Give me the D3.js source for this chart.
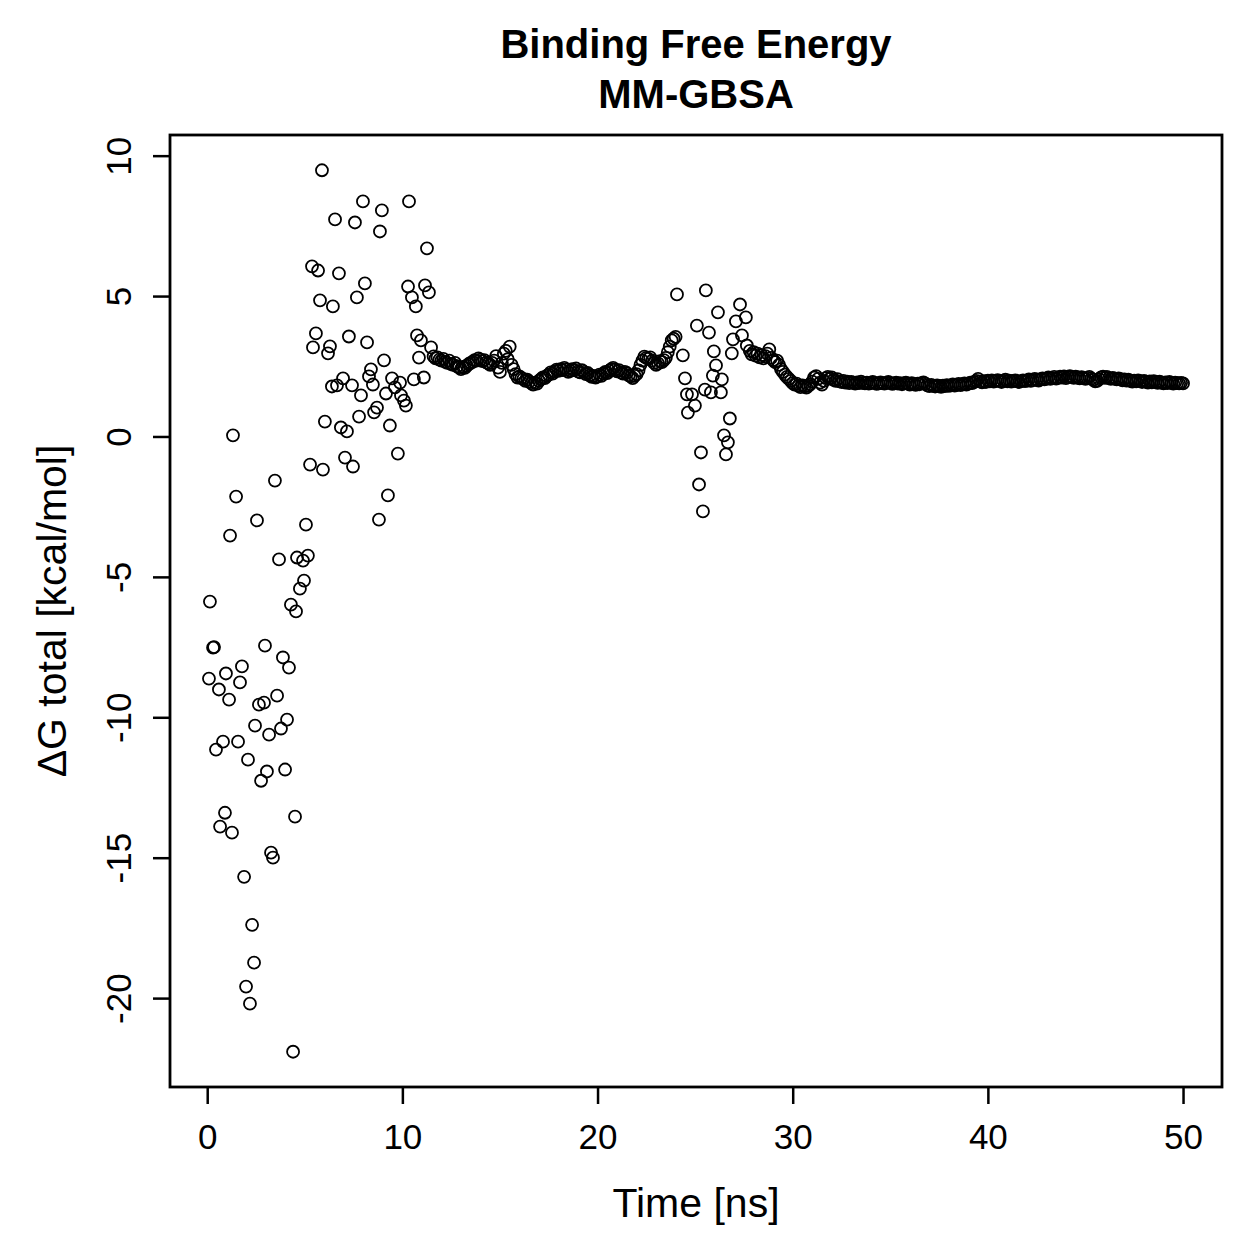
<!DOCTYPE html>
<html>
<head>
<meta charset="utf-8">
<script src="https://cdn.jsdelivr.net/npm/d3@7"></script>
<style>
  body { margin: 0; background: #fff; }
  svg { display: block; font-family: "Liberation Sans", Arial, Helvetica, sans-serif; }
</style>
</head>
<body>
<div id="chart"></div>
<script>
// early trajectory (0 - 11.5 ns), read point by point
var earlyTime = [0.14,0.09,0.30,0.35,0.45,0.60,0.66,0.91,0.96,1.12,1.17,1.27,1.32,1.48,1.58,0.81,1.68,1.78,1.89,1.99,
  2.09,2.19,2.30,2.40,2.45,2.55,2.65,2.76,2.91,2.96,3.06,3.17,3.27,3.37,3.47,3.58,3.68,3.78,3.88,3.99,
  4.09,4.19,4.29,4.40,4.50,4.55,4.60,4.75,4.91,4.96,5.06,5.16,5.27,5.42,5.37,5.57,5.68,5.78,5.88,5.93,
  6.03,6.19,6.29,6.39,6.44,6.55,6.65,6.75,6.85,6.96,7.06,7.16,7.26,7.42,7.47,7.57,7.67,7.78,7.88,7.98,
  8.08,8.19,8.29,8.39,8.49,8.55,8.70,8.80,8.85,8.95,9.06,9.16,9.26,9.36,9.47,9.62,9.77,9.88,9.93,10.08,
  10.18,10.29,10.34,10.49,10.59,10.69,10.75,10.85,10.95,11.10,11.16,11.26,11.36,11.47];
var earlyDG = [-5.88,-8.62,-7.52,-7.50,-11.15,-9.01,-13.89,-13.40,-8.44,-9.37,-3.53,-14.11,0.04,-2.14,-10.87,-10.87,-8.76,-8.19,-15.68,-19.59,
  -11.51,-20.20,-17.39,-18.74,-10.30,-2.99,-9.55,-12.26,-9.48,-7.45,-11.93,-10.62,-14.82,-15.00,-1.57,-9.23,-4.38,-10.40,-7.87,-11.86,
  -10.08,-8.23,-5.99,-21.91,-13.54,-6.23,-4.31,-5.42,-4.42,-5.13,-3.14,-4.24,-1.00,3.17,6.06,3.67,5.91,4.85,9.48,-1.18,
  0.53,2.96,3.21,1.78,4.63,7.73,1.82,5.81,0.32,2.07,-0.75,0.18,3.56,1.82,-1.07,7.62,4.95,0.71,1.46,8.37,
  5.45,3.35,2.14,2.39,1.85,0.86,1.03,-2.96,7.30,8.05,2.71,1.53,-2.10,0.39,2.07,1.75,-0.61,1.92,1.46,1.28,
  1.10,5.34,8.37,4.95,2.03,4.63,3.60,2.81,3.42,2.10,5.38,6.70,5.13,3.17];

// second excursion (24 - 27.7 ns)
var spikeTime = [24.07,24.37,24.48,24.58,24.63,24.84,24.99,25.09,25.20,25.30,25.40,25.50,25.55,25.71,25.81,25.91,
  25.96,26.07,26.17,26.32,26.37,26.48,26.58,26.68,26.78,26.88,26.94,27.09,27.30,27.40,27.60,27.65];
var spikeDG = [5.06,2.89,2.07,1.50,0.85,1.50,1.10,3.95,-1.71,-0.57,-2.67,1.67,5.20,3.70,1.57,2.17,
  3.03,2.53,4.42,1.57,2.03,0.04,-0.64,-0.21,0.64,2.96,3.46,4.10,4.70,3.60,4.24,3.24];

// settled frames, sampled every 0.1 ns
var timeStep = 0.1;
var plateauAStart = 11.6;
var plateauA = [
  2.85,2.78,2.82,2.74,2.70,2.76,2.66,2.62,2.70,2.58,
  2.55,2.62,2.50,2.46,2.40,2.48,2.44,2.52,2.58,2.62,
  2.66,2.72,2.70,2.78,2.74,2.68,2.72,2.64,2.60,2.55,
  2.62,2.70,2.86,2.45,2.30,2.62,2.95,3.05,2.75,3.20,
  2.55,2.40,2.22,2.10,2.14,2.08,2.05,1.98,2.02,1.95,
  1.90,1.85,1.92,1.88,1.98,2.04,2.10,2.08,2.16,2.20,
  2.28,2.24,2.32,2.38,2.34,2.40,2.36,2.44,2.38,2.30,
  2.34,2.40,2.36,2.42,2.32,2.28,2.36,2.30,2.22,2.26,
  2.18,2.12,2.16,2.10,2.14,2.20,2.16,2.24,2.30,2.26,
  2.34,2.40,2.44,2.38,2.32,2.36,2.28,2.24,2.30,2.26,
  2.18,2.14,2.08,2.16,2.22,2.35,2.55,2.70,2.84,2.80,
  2.76,2.82,2.70,2.62,2.55,2.60,2.68,2.65,2.72,2.80,
  3.00,3.20,3.42,3.48,3.55];
var plateauBStart = 27.8;
var plateauB = [
  3.05,2.92,3.00,2.88,2.95,2.82,2.90,2.78,2.86,2.95,
  3.10,2.80,2.72,2.65,2.70,2.55,2.40,2.30,2.20,2.12,
  2.05,1.98,1.90,1.85,1.88,1.80,1.76,1.82,1.78,1.74,
  1.80,1.86,1.95,2.10,2.15,2.05,1.92,1.85,1.98,2.08,
  2.12,2.06,2.10,2.02,1.98,2.04,1.96,1.94,1.98,1.92,
  1.95,1.90,1.94,1.92,1.88,1.93,1.90,1.95,1.91,1.89,
  1.92,1.88,1.90,1.94,1.91,1.87,1.89,1.93,1.90,1.88,
  1.91,1.94,1.90,1.87,1.89,1.92,1.88,1.90,1.86,1.89,
  1.92,1.88,1.85,1.90,1.87,1.84,1.88,1.86,1.90,1.93,
  1.88,1.82,1.79,1.84,1.80,1.78,1.82,1.80,1.77,1.81,
  1.79,1.83,1.80,1.82,1.85,1.81,1.84,1.87,1.83,1.86,
  1.89,1.85,1.88,1.92,1.90,1.94,1.98,2.05,1.96,1.93,
  1.97,1.94,1.99,1.96,2.00,1.95,1.98,2.01,1.97,1.94,
  1.98,2.02,1.96,1.99,1.95,1.98,2.00,1.96,1.94,1.97,
  2.00,1.97,1.99,2.03,1.98,2.01,2.05,2.02,1.99,2.04,
  2.07,2.03,2.06,2.10,2.05,2.08,2.12,2.06,2.09,2.13,
  2.10,2.14,2.08,2.11,2.15,2.12,2.09,2.13,2.10,2.07,
  2.11,2.08,2.05,2.09,2.12,2.06,2.02,1.96,1.98,2.04,
  2.10,2.13,2.09,2.12,2.08,2.05,2.09,2.06,2.03,2.07,
  2.04,2.00,2.03,1.99,2.02,1.98,1.95,1.99,1.96,2.00,
  1.97,1.94,1.98,1.95,1.92,1.96,1.93,1.97,1.94,1.91,
  1.95,1.92,1.89,1.93,1.90,1.94,1.91,1.88,1.92,1.90,
  1.89,1.91,1.89];

var xTicks = [0, 10, 20, 30, 40, 50];
var yTicks = [-20, -15, -10, -5, 0, 5, 10];

var points = [];
earlyTime.forEach(function(t, i) { points.push({t: t, g: earlyDG[i]}); });
plateauA.forEach(function(g, i) { points.push({t: plateauAStart + i * timeStep, g: g}); });
spikeTime.forEach(function(t, i) { points.push({t: t, g: spikeDG[i]}); });
plateauB.forEach(function(g, i) { points.push({t: plateauBStart + i * timeStep, g: g}); });

var W = 1259, H = 1259;
var plotL = 170, plotR = 1222, plotT = 135, plotB = 1087;

// R style 4% padding on the data range
function pad(ext) {
  var d = (ext[1] - ext[0]) * 0.04;
  return [ext[0] - d, ext[1] + d];
}
var x = d3.scaleLinear().domain(pad(d3.extent(points, function(d) { return d.t; }))).range([plotL, plotR]);
var y = d3.scaleLinear().domain(pad(d3.extent(points, function(d) { return d.g; }))).range([plotB, plotT]);

var svg = d3.select("#chart").append("svg")
  .attr("width", W)
  .attr("height", H)
  .style("background-color", "white");

svg.append("g").selectAll("circle")
  .data(points)
  .enter().append("circle")
  .attr("cx", function(d) { return x(d.t); })
  .attr("cy", function(d) { return y(d.g); })
  .attr("r", 6)
  .attr("fill", "none")
  .attr("stroke", "black")
  .attr("stroke-width", 1.8);

svg.append("rect")
  .attr("x", plotL).attr("y", plotT)
  .attr("width", plotR - plotL).attr("height", plotB - plotT)
  .attr("fill", "none").attr("stroke", "black").attr("stroke-width", 2.8);

var xAxis = svg.append("g")
  .attr("transform", "translate(0," + plotB + ")")
  .call(d3.axisBottom(x).tickValues(xTicks).tickSize(17).tickPadding(20)
    .tickFormat(function(d) { return String(d); }));
xAxis.select(".domain").remove();
xAxis.selectAll("line").attr("stroke-width", 2.5);
xAxis.selectAll("text").attr("font-size", 35).attr("font-family", "Liberation Sans, Arial, sans-serif");

var yAxis = svg.append("g")
  .attr("transform", "translate(" + plotL + ",0)")
  .call(d3.axisLeft(y).tickValues(yTicks).tickSize(17)
    .tickFormat(function(d) { return String(d); }));
yAxis.select(".domain").remove();
yAxis.selectAll("line").attr("stroke-width", 2.5);
yAxis.selectAll("text")
  .attr("font-size", 35)
  .attr("font-family", "Liberation Sans, Arial, sans-serif")
  .attr("text-anchor", "middle")
  .attr("x", 0).attr("dy", null)
  .attr("transform", "translate(-39,0) rotate(-90)");

svg.append("text")
  .attr("x", (plotL + plotR) / 2).attr("y", 58)
  .attr("text-anchor", "middle")
  .attr("font-size", 40).attr("font-weight", "bold")
  .text("Binding Free Energy");
svg.append("text")
  .attr("x", (plotL + plotR) / 2).attr("y", 108)
  .attr("text-anchor", "middle")
  .attr("font-size", 40).attr("font-weight", "bold")
  .text("MM-GBSA");

svg.append("text")
  .attr("x", (plotL + plotR) / 2).attr("y", 1217)
  .attr("text-anchor", "middle")
  .attr("font-size", 41)
  .text("Time [ns]");

svg.append("text")
  .attr("transform", "translate(66," + (plotT + plotB) / 2 + ") rotate(-90)")
  .attr("text-anchor", "middle")
  .attr("font-size", 41)
  .text("ΔG total [kcal/mol]");
</script>
</body>
</html>
